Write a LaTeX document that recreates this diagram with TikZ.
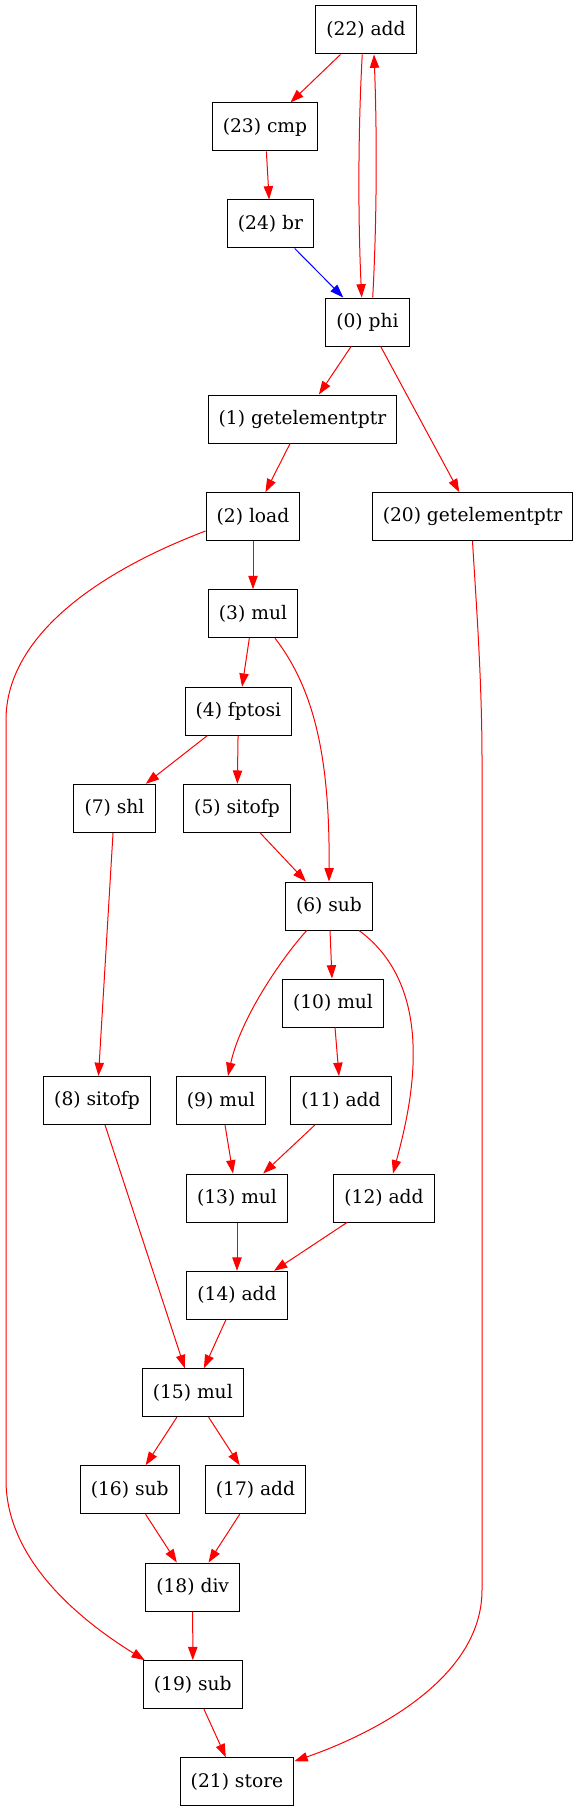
\documentclass[tikz,border=0pt]{standalone}
\usepackage{fontspec}
\setmainfont{DejaVu Serif}
\usetikzlibrary{arrows.meta}

\begin{document}
\begin{tikzpicture}[x=0.75pt, y=-0.75pt, line width=0.75pt,
  op/.style={draw, rectangle, minimum height=36pt, inner xsep=7.92pt, inner ysep=0pt,
    font=\fontsize{14pt}{16pt}\selectfont},
  dep/.style={red, ->},
  >={Triangle[length=10pt, width=7pt]}]
\useasboundingbox (0,0) rectangle (579,1812);

\node[op] (n22) at (366,30) {(22) add};
\node[op] (n23) at (265,127) {(23) cmp};
\node[op] (n24) at (270.5,224) {(24) br};
\node[op] (n0) at (367.5,322) {(0) phi};
\node[op] (n1) at (302.5,419) {(1) getelementptr};
\node[op] (n20) at (472.5,516.7) {(20) getelementptr};
\node[op] (n2) at (253,516.7) {(2) load};
\node[op] (n3) at (253,613.7) {(3) mul};
\node[op] (n4) at (238.4,711.3) {(4) fptosi};
\node[op] (n7) at (114.5,808.3) {(7) shl};
\node[op] (n5) at (237,808.3) {(5) sitofp};
\node[op] (n6) at (329,906) {(6) sub};
\node[op] (n10) at (333,1003) {(10) mul};
\node[op] (n8) at (97,1100.5) {(8) sitofp};
\node[op] (n9) at (221,1100.5) {(9) mul};
\node[op] (n11) at (341,1100.5) {(11) add};
\node[op] (n13) at (237,1198) {(13) mul};
\node[op] (n12) at (384,1198) {(12) add};
\node[op] (n14) at (237,1295.3) {(14) add};
\node[op] (n15) at (192.8,1392.7) {(15) mul};
\node[op] (n16) at (129.7,1489.7) {(16) sub};
\node[op] (n17) at (255.5,1489.7) {(17) add};
\node[op] (n18) at (192.7,1587) {(18) div};
\node[op] (n19) at (192.8,1684.7) {(19) sub};
\node[op] (n21) at (237,1781.7) {(21) store};

\draw[dep] (n22) -- (n23);
\draw[dep] ([xshift=-2.8pt]n22.south) .. controls (358,130) and (358,220) .. ([xshift=-4.35pt]n0.north);
\draw[dep] ([xshift=3.9pt]n0.north) .. controls (377,220) and (377,130) .. ([xshift=6pt]n22.south);
\draw[dep] (n23) -- (n24);
\draw[blue, ->] (n24) -- (n0);
\draw[dep] (n0) -- (n1);
\draw[dep] (n0) -- (n20);
\draw[dep] (n1) -- (n2);
\draw[dep] (n2) -- (n3);
\draw[dep] ([yshift=-10.7pt]n2.west) .. controls (90,575) and (6,640) .. (6,720) -- (6,1480)
  .. controls (6,1560) and (80,1620) .. ([xshift=1.5pt]n19.north west);
\draw[dep] (n3) -- (n4);
\draw[dep] ([xshift=16.5pt]n3.south) .. controls (315,690) and (330,760) .. (n6.north);
\draw[dep] (n4) -- (n7);
\draw[dep] (n4) -- (n5);
\draw[dep] (n5) -- (n6);
\draw[dep] (n7) -- (n8);
\draw[dep] (n6) -- (n10);
\draw[dep] ([xshift=-16.7pt]n6.south) .. controls (280,960) and (240,1020) .. ([xshift=5.25pt]n9.north);
\draw[dep] ([xshift=22.5pt]n6.south) .. controls (440,990) and (410,1110) .. ([xshift=6.75pt]n12.north);
\draw[dep] (n10) -- (n11);
\draw[dep] (n9) -- (n13);
\draw[dep] (n11) -- (n13);
\draw[dep] (n13) -- (n14);
\draw[dep] (n12) -- (n14);
\draw[dep] (n8) -- (n15);
\draw[dep] (n14) -- (n15);
\draw[dep] (n15) -- (n16);
\draw[dep] (n15) -- (n17);
\draw[dep] (n16) -- (n18);
\draw[dep] (n17) -- (n18);
\draw[dep] (n18) -- (n19);
\draw[dep] (n19) -- (n21);
\draw[dep] (n20.south) .. controls (476,600) and (482,680) .. (482,760) -- (482,1590)
  .. controls (482,1680) and (370,1735) .. ([yshift=-3pt]n21.north east);

\end{tikzpicture}
\end{document}
